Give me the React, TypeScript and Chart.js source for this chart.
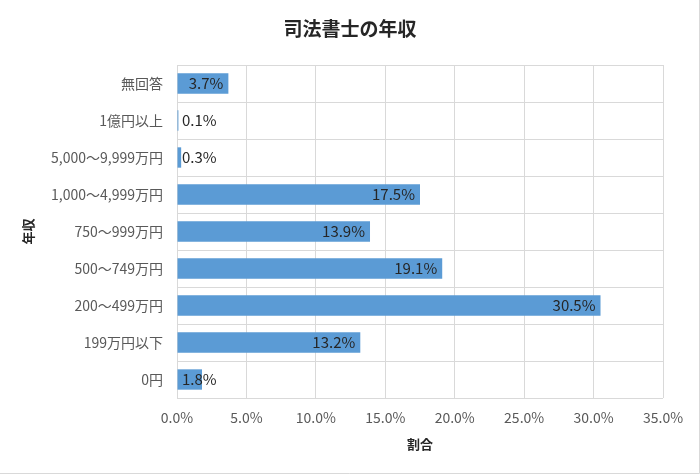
import React, { useEffect, useRef } from "react";
import { Chart, registerables } from "chart.js";

Chart.register(...registerables);

const categories = [
  "無回答",
  "1億円以上",
  "5,000～9,999万円",
  "1,000～4,999万円",
  "750～999万円",
  "500～749万円",
  "200～499万円",
  "199万円以下",
  "0円",
];
const values = [3.7, 0.1, 0.3, 17.5, 13.9, 19.1, 30.5, 13.2, 1.8];
const xTicks = [0, 5, 10, 15, 20, 25, 30, 35];

const chartTitle = "司法書士の年収";
const yTitle = "年収";
const xTitle = "割合";

const FONT = "'Noto Sans CJK JP', 'Noto Sans', sans-serif";

const decorPlugin = {
  id: "decor",
  afterDraw(chart: any) {
    const ctx = chart.ctx;
    const area = chart.chartArea;
    const xs = chart.scales.x;
    const meta = chart.getDatasetMeta(0);
    ctx.save();
    // titles
    ctx.fillStyle = "#262626";
    ctx.font = `bold 19px ${FONT}`;
    ctx.textAlign = "center";
    ctx.textBaseline = "middle";
    ctx.fillText(chartTitle, 350, 29);
    ctx.font = `bold 13px ${FONT}`;
    ctx.fillText(xTitle, (area.left + area.right) / 2, 444);
    ctx.save();
    ctx.translate(28, (area.top + area.bottom) / 2);
    ctx.rotate(-Math.PI / 2);
    ctx.fillText(yTitle, 0, 0);
    ctx.restore();
    // data labels
    ctx.font = `15px ${FONT}`;
    ctx.fillStyle = "#262626";
    ctx.textAlign = "left";
    meta.data.forEach((bar: any, i: number) => {
      const text = values[i].toFixed(1) + "%";
      const w = ctx.measureText(text).width;
      const x0 = xs.getPixelForValue(0);
      const left = Math.max(bar.x - 5 - w, x0 + 5);
      ctx.fillText(text, left, bar.y);
    });
    // outer border (right / bottom)
    ctx.strokeStyle = "#d9d9d9";
    ctx.lineWidth = 1;
    ctx.beginPath();
    ctx.moveTo(699.5, 0);
    ctx.lineTo(699.5, 473.5);
    ctx.lineTo(0, 473.5);
    ctx.stroke();
    ctx.restore();
  },
};

export default function App() {
  const ref = useRef<HTMLCanvasElement | null>(null);
  useEffect(() => {
    document.body.style.margin = "0";
    const chart = new Chart(ref.current as HTMLCanvasElement, {
      type: "bar",
      data: {
        labels: categories,
        datasets: [
          {
            data: values,
            backgroundColor: "#5B9BD5",
            borderWidth: 0,
            categoryPercentage: 1,
            barPercentage: 0.55,
          },
        ],
      },
      options: {
        indexAxis: "y",
        animation: false,
        responsive: false,
        devicePixelRatio: 1,
        layout: { padding: { top: 65, right: 37, left: 0, bottom: 0 } },
        plugins: {
          legend: { display: false },
          title: { display: false },
          tooltip: { enabled: false },
        },
        scales: {
          x: {
            min: 0,
            max: 35,
            afterBuildTicks(scale: any) {
              scale.ticks = xTicks.map((v) => ({ value: v }));
            },
            afterFit(scale: any) {
              scale.height = 77;
            },
            ticks: {
              padding: 11,
              color: "#595959",
              font: { family: FONT, size: 14 },
              callback: (v: any) => Number(v).toFixed(1) + "%",
            },
            grid: { color: "#d9d9d9", drawTicks: false },
            border: { display: false },
          },
          y: {
            afterFit(scale: any) {
              scale.width = 177;
            },
            ticks: {
              padding: 14,
              color: "#595959",
              font: { family: FONT, size: 14 },
            },
            grid: { color: "#d9d9d9", drawTicks: false, offset: true },
            border: { display: false },
          },
        },
      },
      plugins: [decorPlugin],
    } as any);
    return () => chart.destroy();
  }, []);
  return <canvas ref={ref} width={700} height={475} style={{ display: "block" }} />;
}
